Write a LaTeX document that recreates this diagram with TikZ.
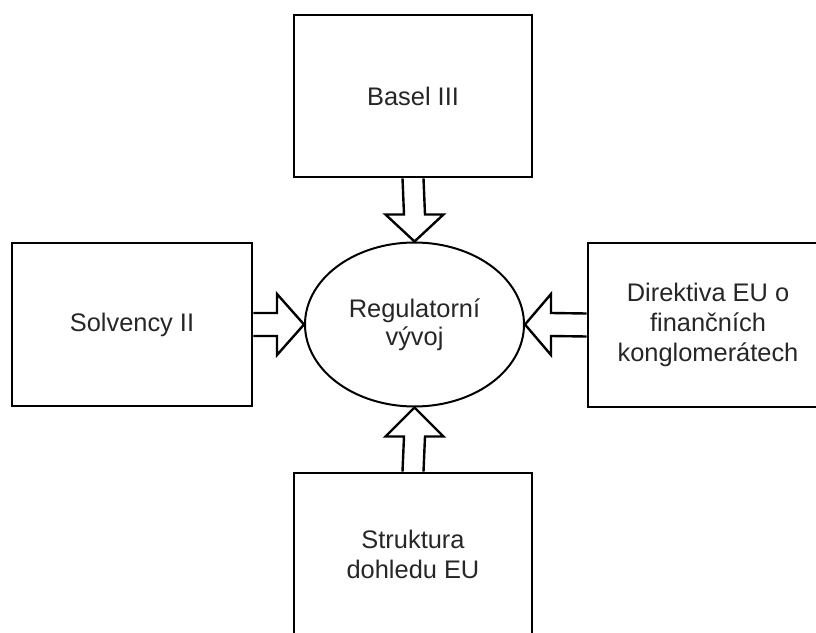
\documentclass[tikz,border=0pt]{standalone}
\usepackage{fontspec}
\setmainfont{Liberation Sans}
\usetikzlibrary{shapes.geometric,calc}
\begin{document}
\begin{tikzpicture}[x=1bp,y=-1bp,
  box/.style={draw,line width=2.8bp,minimum width=238bp,minimum height=162bp,inner sep=0pt,align=center,font=\fontsize{25.5}{30}\selectfont,text=black!85},
  ell/.style={draw,ellipse,line width=2bp,minimum width=219bp,minimum height=164bp,inner sep=0pt,align=center,font=\fontsize{25.5}{28}\selectfont,text=black!85},
  barrow/.style={draw,line width=2.4bp,line join=miter}]
\useasboundingbox (0,0) rectangle (816,633);
\node[box] (top) at (413,96) {Basel III};
\node[box,minimum width=240bp,minimum height=163bp] (left) at (132,324.5) {Solvency II};
\node[box,minimum width=240bp,minimum height=164bp] (right) at (708,325) {Direktiva EU o\\finančních\\konglomerátech};
\node[box,minimum height=163bp] (bottom) at (413,554.5) {Struktura\\dohledu EU};
\node[ell] (c) at (414.5,324.5) {Regulatorní\\vývoj};
% top arrow
\draw[barrow] ($(top.south)+(-10.5,0)$) -- ($(c.north)+(-10.5,-27)$) -- ($(c.north)+(-29,-27)$) -- (c.north) -- ($(c.north)+(29,-27)$) -- ($(c.north)+(10.5,-27)$) -- ($(top.south)+(10.5,0)$);
% bottom arrow
\draw[barrow] ($(bottom.north)+(-10.5,0)$) -- ($(c.south)+(-10.5,29)$) -- ($(c.south)+(-29,29)$) -- (c.south) -- ($(c.south)+(29,29)$) -- ($(c.south)+(10.5,29)$) -- ($(bottom.north)+(10.5,0)$);
% left arrow
\draw[barrow] ($(left.east)+(0,-11.5)$) -- ($(c.west)+(-27,-11.5)$) -- ($(c.west)+(-27,-30.5)$) -- (c.west) -- ($(c.west)+(-27,30.5)$) -- ($(c.west)+(-27,11.5)$) -- ($(left.east)+(0,11.5)$);
% right arrow
\draw[barrow] ($(right.west)+(0,-11.5)$) -- ($(c.east)+(26,-11.5)$) -- ($(c.east)+(26,-30.5)$) -- (c.east) -- ($(c.east)+(26,30.5)$) -- ($(c.east)+(26,11.5)$) -- ($(right.west)+(0,11.5)$);
\end{tikzpicture}
\end{document}
